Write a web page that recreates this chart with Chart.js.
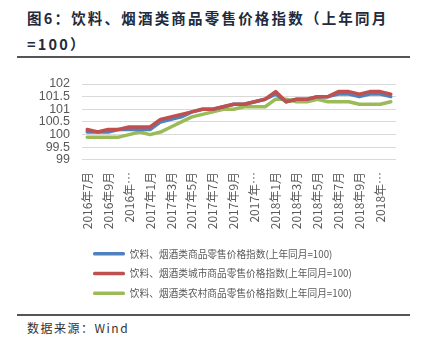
<!DOCTYPE html>
<html>
<head>
<meta charset="utf-8">
<script src="https://cdn.jsdelivr.net/npm/chart.js@4/dist/chart.umd.min.js"></script>
<style>
  html, body { margin: 0; padding: 0; background: #fff; }
  body { width: 426px; height: 348px; position: relative; overflow: hidden; }
  #title { position: absolute; left: 27px; top: 5px; width: 395px; font-family: "Noto Sans CJK SC", sans-serif; font-weight: bold; font-size: 14.5px; letter-spacing: 2.2px; line-height: 26px; color: #222a3c; }
  #rule1 { position: absolute; left: 17px; top: 56px; width: 393px; height: 2px; background: #555; }
  #rule2 { position: absolute; left: 17px; top: 314px; width: 393px; height: 2px; background: #555; }
  #source { position: absolute; left: 27px; top: 318px; font-family: "Noto Sans CJK SC", sans-serif; font-size: 12px; letter-spacing: 1.5px; line-height: 20px; color: #333; }
  #wrap { position: absolute; left: 0; top: 60px; width: 426px; height: 250px; }
</style>
</head>
<body>
<div id="title">图6：饮料、烟酒类商品零售价格指数（上年同月<br>=100）</div>
<div id="rule1"></div>
<div id="wrap"><canvas id="c" width="426" height="250"></canvas></div>
<div id="rule2"></div>
<div id="source">数据来源：Wind</div>
<script>
const categories = [
  "2016年7月","2016年8月","2016年9月","2016年10月","2016年11月","2016年12月",
  "2017年1月","2017年2月","2017年3月","2017年4月","2017年5月","2017年6月",
  "2017年7月","2017年8月","2017年9月","2017年10月","2017年11月","2017年12月",
  "2018年1月","2018年2月","2018年3月","2018年4月","2018年5月","2018年6月",
  "2018年7月","2018年8月","2018年9月","2018年10月","2018年11月","2018年12月"
];
const seriesNames = [
  "饮料、烟酒类商品零售价格指数(上年同月=100)",
  "饮料、烟酒类城市商品零售价格指数(上年同月=100)",
  "饮料、烟酒类农村商品零售价格指数(上年同月=100)"
];
const totalIndex = [100.1,100.1,100.1,100.2,100.2,100.2,100.2,100.5,100.6,100.7,100.9,101.0,101.0,101.1,101.2,101.2,101.3,101.4,101.6,101.3,101.4,101.4,101.5,101.5,101.6,101.6,101.5,101.6,101.6,101.5];
const urbanIndex = [100.2,100.1,100.2,100.2,100.3,100.3,100.3,100.6,100.7,100.8,100.9,101.0,101.0,101.1,101.2,101.2,101.3,101.4,101.7,101.3,101.4,101.4,101.5,101.5,101.7,101.7,101.6,101.7,101.7,101.6];
const ruralIndex = [99.9,99.9,99.9,99.9,100.0,100.1,100.0,100.1,100.3,100.5,100.7,100.8,100.9,101.0,101.0,101.1,101.1,101.1,101.4,101.4,101.3,101.3,101.4,101.3,101.3,101.3,101.2,101.2,101.2,101.3];
const yTicks = { min: 99, max: 102, step: 0.5 };

const colors = ["#4F81BD", "#C0504D", "#9BBB59"];
const mk = (name, data, color, order) => ({
  label: name, data, borderColor: color, backgroundColor: color,
  borderWidth: 3.5, pointRadius: 0, pointHoverRadius: 0, tension: 0,
  borderJoinStyle: 'round', borderCapStyle: 'round', order
});

const legendMover = {
  id: 'legendMover',
  afterLayout(chart) {
    const lg = chart.legend;
    if (!lg) return;
    const w = lg.width;
    lg.left = 83; lg.right = 83 + w;
    lg.top = 179; lg.bottom = 179 + lg.height;
  }
};

new Chart(document.getElementById('c'), {
  type: 'line',
  data: {
    labels: categories,
    datasets: [
      mk(seriesNames[0], totalIndex, colors[0], 1),
      mk(seriesNames[1], urbanIndex, colors[1], 0),
      mk(seriesNames[2], ruralIndex, colors[2], 2)
    ]
  },
  plugins: [legendMover],
  options: {
    responsive: false,
    animation: false,
    devicePixelRatio: 1,
    layout: { padding: { top: 24, right: 30, bottom: 2, left: 0 } },
    plugins: {
      tooltip: { enabled: false },
      title: { display: false },
      legend: {
        position: 'bottom',
        align: 'start',
        labels: {
          boxWidth: 32, boxHeight: 3.5, padding: 10,
          useBorderRadius: true, borderRadius: 1.5,
          color: '#595959',
          font: { family: '"Noto Sans CJK SC", sans-serif', size: 9.7 },
          sort: (a, b) => a.datasetIndex - b.datasetIndex,
          generateLabels(chart) {
            const items = Chart.defaults.plugins.legend.labels.generateLabels(chart);
            items.forEach(it => { it.lineWidth = 0; it.fillStyle = it.strokeStyle; });
            return items;
          }
        }
      }
    },
    scales: {
      x: {
        offset: true,
        grid: { display: false, drawTicks: false },
        border: { display: false },
        afterFit(scale) { scale.height = 79; },
        ticks: {
          autoSkip: false, maxRotation: 90, minRotation: 90, padding: 12,
          color: '#595959',
          font: { family: '"Noto Sans CJK SC", sans-serif', size: 12 },
          callback(value, index) {
            if (index % 2 !== 0) return '';
            const s = categories[index];
            return s.length > 7 ? s.slice(0, 5) + '…' : s;
          }
        }
      },
      y: {
        min: yTicks.min, max: yTicks.max,
        grid: { color: '#D9D9D9', lineWidth: 1, drawTicks: false },
        border: { display: false },
        afterFit(scale) { scale.width = 82; },
        ticks: {
          stepSize: yTicks.step, padding: 12, autoSkip: false, maxTicksLimit: 20,
          color: '#595959',
          font: { family: '"Liberation Sans", Arial, sans-serif', size: 12.5, lineHeight: 0.9 },
          callback: (v) => String(Math.round(v * 10) / 10)
        }
      }
    }
  }
});
</script>
</body>
</html>
